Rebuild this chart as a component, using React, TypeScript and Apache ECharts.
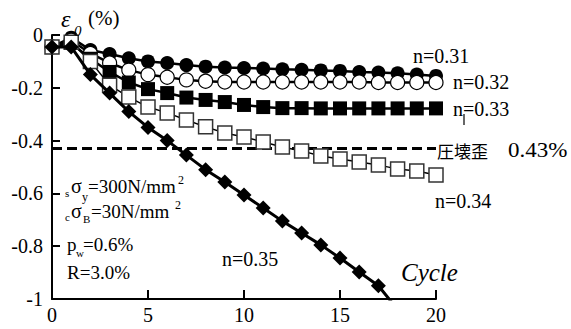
import React, { useEffect, useRef } from "react";
import * as echarts from "echarts";

const cycles = [0, 1, 2, 3, 4, 5, 6, 7, 8, 9, 10, 11, 12, 13, 14, 15, 16, 17, 18, 19, 20];
const n031 = [-0.045, -0.01, -0.057, -0.072, -0.088, -0.1, -0.106, -0.114, -0.12, -0.123, -0.125, -0.127, -0.13, -0.132, -0.134, -0.136, -0.14, -0.142, -0.145, -0.15, -0.155];
const n032 = [-0.045, -0.02, -0.07, -0.106, -0.133, -0.15, -0.16, -0.17, -0.175, -0.178, -0.178, -0.178, -0.178, -0.178, -0.178, -0.178, -0.178, -0.18, -0.18, -0.18, -0.18];
const n033 = [-0.045, -0.03, -0.09, -0.14, -0.18, -0.205, -0.22, -0.237, -0.246, -0.254, -0.265, -0.273, -0.277, -0.277, -0.278, -0.278, -0.278, -0.278, -0.278, -0.278, -0.278];
const n034 = [-0.045, -0.027, -0.1, -0.19, -0.235, -0.273, -0.295, -0.322, -0.348, -0.371, -0.386, -0.405, -0.424, -0.439, -0.458, -0.47, -0.481, -0.492, -0.508, -0.515, -0.53];
const n035 = [-0.045, -0.045, -0.15, -0.22, -0.29, -0.35, -0.4, -0.455, -0.51, -0.557, -0.606, -0.655, -0.705, -0.75, -0.795, -0.845, -0.898, -0.95, -1.04];
const crushStrain = -0.43;
const xTicks = { min: 0, max: 20, interval: 5 };
const yTicks = { min: -1, max: 0, interval: 0.2 };

const SERIF = "Liberation Serif";
const CJK = "Noto Sans CJK JP";

function pairs(vals: number[]) {
  return vals.map((v, i) => [cycles[i], v]);
}

function txt(text: string, x: number, y: number, size: number, extra: any = {}) {
  return {
    type: "text",
    x,
    y,
    z: 100,
    style: {
      text,
      fontFamily: SERIF,
      fontSize: size,
      fill: "#000",
      verticalAlign: "middle",
      align: "left",
      ...extra,
    },
  };
}

export default function App() {
  const ref = useRef<HTMLDivElement>(null);
  useEffect(() => {
    document.body.style.margin = "0";
    const chart = echarts.init(ref.current!, null, { renderer: "svg" });
    const option: any = {
      animation: false,
      backgroundColor: "#fff",
      textStyle: { fontFamily: SERIF },
      grid: { left: 52, right: 135, top: 35, bottom: 30, containLabel: false },
      xAxis: {
        type: "value",
        min: xTicks.min,
        max: xTicks.max,
        interval: xTicks.interval,
        axisLine: { onZero: false, lineStyle: { color: "#000", width: 2 } },
        axisTick: { inside: true, length: 9, lineStyle: { color: "#000", width: 2 } },
        axisLabel: { color: "#000", fontFamily: SERIF, fontSize: 20, margin: 6 },
        splitLine: { show: false },
      },
      yAxis: {
        type: "value",
        min: yTicks.min,
        max: yTicks.max,
        interval: yTicks.interval,
        axisLine: { onZero: false, lineStyle: { color: "#000", width: 2 } },
        axisTick: { inside: true, length: 8, lineStyle: { color: "#000", width: 2 } },
        axisLabel: { color: "#000", fontFamily: SERIF, fontSize: 20, margin: 9 },
        splitLine: { show: false },
      },
      series: [
        {
          type: "line",
          data: [[0, crushStrain], [20, crushStrain]],
          symbol: "none",
          lineStyle: { color: "#000", width: 3, type: [10, 5] },
          z: 1,
        },
        {
          type: "line",
          name: "n=0.31",
          data: pairs(n031),
          symbol: "circle",
          symbolSize: 14,
          itemStyle: { color: "#000" },
          lineStyle: { color: "#000", width: 2.5 },
          z: 2,
        },
        {
          type: "line",
          name: "n=0.32",
          data: pairs(n032),
          symbol: "circle",
          symbolSize: 14,
          itemStyle: { color: "#fff", borderColor: "#000", borderWidth: 1.2 },
          lineStyle: { color: "#000", width: 2.5 },
          z: 3,
        },
        {
          type: "line",
          name: "n=0.33",
          data: pairs(n033),
          symbol: "rect",
          symbolSize: 14,
          itemStyle: { color: "#000" },
          lineStyle: { color: "#000", width: 2.5 },
          z: 4,
        },
        {
          type: "line",
          name: "n=0.34",
          data: pairs(n034),
          symbol: "rect",
          symbolSize: 14,
          itemStyle: { color: "#fff", borderColor: "#333", borderWidth: 1.5 },
          lineStyle: { color: "#000", width: 1.5 },
          z: 5,
        },
        {
          type: "line",
          name: "n=0.35",
          data: pairs(n035),
          symbol: "diamond",
          symbolSize: 15,
          itemStyle: { color: "#000" },
          lineStyle: { color: "#000", width: 3 },
          clip: true,
          z: 6,
        },
      ],
      graphic: [
        txt("ε", 61, 19, 24, { fontStyle: "italic" }),
        txt("0", 74, 31, 15, { fontStyle: "italic" }),
        txt("(%)", 88, 18, 21),
        txt("n=0.31", 413, 56, 20),
        txt("n=0.32", 453, 82, 20),
        txt("n=0.33", 453, 109, 20),
        { type: "line", z: 100, shape: { x1: 464, y1: 114, x2: 464, y2: 125 }, style: { stroke: "#000", lineWidth: 1.2 } },
        txt("圧壊歪", 437, 150, 17, { fontFamily: CJK }),
        { ...txt("0.43%", 508, 151, 20), scaleX: 1.15, originX: 0 },
        txt("n=0.34", 435, 201, 20),
        txt("n=0.35", 222, 259, 20),
        txt("Cycle", 401, 272, 25, { fontStyle: "italic" }),
        txt("s", 65, 193, 11),
        txt("σ", 71, 186, 20),
        txt("y", 82, 197, 12),
        txt("=300N/mm", 88, 186, 19),
        txt("2", 178, 180, 12),
        txt("c", 65, 217, 11),
        txt("σ", 71, 211, 20),
        txt("B", 83, 219, 11),
        txt("=30N/mm", 91, 211, 19),
        txt("2", 175, 205, 12),
        txt("p", 67, 244, 19),
        txt("w", 76, 253, 11),
        txt("=0.6%", 83, 244, 19),
        txt("R=3.0%", 67, 272, 19),
      ],
    };
    chart.setOption(option);
    return () => chart.dispose();
  }, []);
  return <div ref={ref} style={{ width: 571, height: 329 }} />;
}
